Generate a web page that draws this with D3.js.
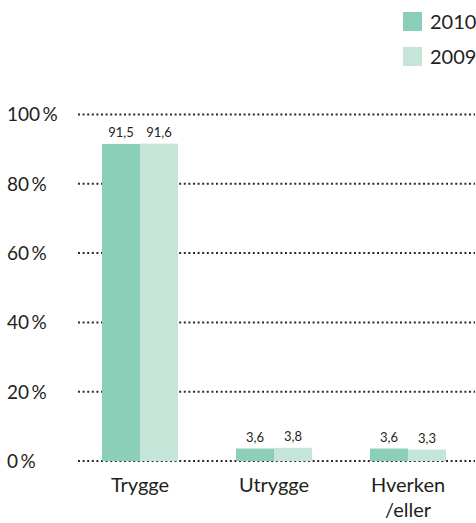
<!DOCTYPE html>
<html>
<head>
<meta charset="utf-8">
<script src="https://cdn.jsdelivr.net/npm/d3@7"></script>
<style>
  html, body { margin: 0; padding: 0; background: #fff; }
  svg { display: block; font-family: Lato, "Open Sans", sans-serif; }
</style>
</head>
<body>
<svg id="chart" width="476" height="523"></svg>
<script>
const categories = ["Trygge", "Utrygge", "Hverken/eller"];
const categoryLines = [["Trygge"], ["Utrygge"], ["Hverken", "/eller"]];
const years = ["2010", "2009"];
const values2010 = [91.5, 3.6, 3.6];
const values2009 = [91.6, 3.8, 3.3];
const yTicks = [0, 20, 40, 60, 80, 100];
const yTickLabels = ["0 %", "20 %", "40 %", "60 %", "80 %", "100 %"];
const colors = ["#8bcfb9", "#c5e5d9"];

const svg = d3.select("#chart");
const textColor = "#231f20";

const y = d3.scaleLinear().domain([0, 100]).range([461, 114.5]);
const x = d3.scaleBand().domain(categories).range([73, 475])
  .paddingInner(0.433).paddingOuter(0.2165);
const x1 = d3.scaleBand().domain(years).range([0, x.bandwidth()]);
const color = d3.scaleOrdinal().domain(years).range(colors);

const seriesByYear = { "2010": values2010, "2009": values2009 };
const rows = categories.map((c, i) => ({
  cat: c,
  vals: years.map(yr => ({ year: yr, value: seriesByYear[yr][i] }))
}));

// gridlines
const grid = svg.append("g");
grid.selectAll("line").data(yTicks).join("line")
  .attr("x1", 78).attr("x2", 475)
  .attr("y1", d => y(d)).attr("y2", d => y(d))
  .attr("stroke", "#2b2b2b").attr("stroke-width", 2)
  .attr("stroke-dasharray", "2,2.6");

// y tick labels
svg.append("g").selectAll("text").data(yTicks).join("text")
  .attr("x", 7).attr("y", d => y(d)).attr("dy", "0.36em")
  .attr("font-size", 19).attr("fill", textColor)
  .text((d, i) => yTickLabels[i].replace(" ", "\u2009"));

// bars
const groups = svg.append("g").selectAll("g").data(rows).join("g")
  .attr("transform", d => `translate(${x(d.cat)},0)`);
groups.selectAll("rect").data(d => d.vals).join("rect")
  .attr("x", d => x1(d.year)).attr("width", x1.bandwidth())
  .attr("y", d => y(d.value)).attr("height", d => y(0) - y(d.value))
  .attr("fill", d => color(d.year));

const fmt = v => d3.format(".1f")(v).replace(".", ",");
groups.selectAll("text").data(d => d.vals).join("text")
  .attr("x", d => x1(d.year) + x1.bandwidth() / 2)
  .attr("y", d => y(d.value) - 7)
  .attr("text-anchor", "middle").attr("font-size", 13).attr("fill", textColor)
  .text(d => fmt(d.value));

// x labels
const xl = svg.append("g").selectAll("text").data(categories).join("text")
  .attr("text-anchor", "middle").attr("font-size", 20).attr("fill", textColor)
  .attr("transform", d => `translate(${x(d) + x.bandwidth() / 2},492)`);
xl.selectAll("tspan").data((d, i) => categoryLines[i]).join("tspan")
  .attr("x", 0).attr("y", (d, i) => i * 25).text(d => d);

// legend
const lg = svg.append("g").selectAll("g").data(years).join("g")
  .attr("transform", (d, i) => `translate(403,${12 + i * 35})`);
lg.append("rect").attr("width", 19).attr("height", 19).attr("fill", d => color(d));
lg.append("text").attr("x", 27).attr("y", 17).attr("font-size", 20)
  .attr("fill", textColor).text(d => d);
</script>
</body>
</html>
